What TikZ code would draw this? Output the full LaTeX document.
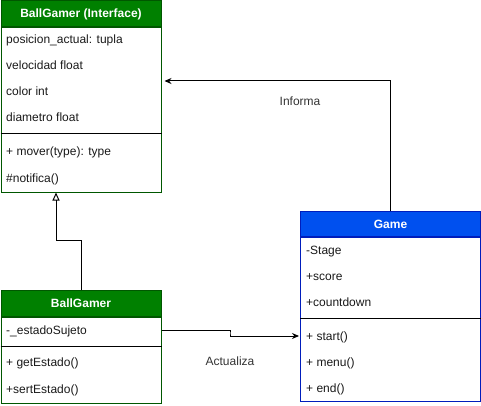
\documentclass[tikz,border=0pt]{standalone}
\usepackage{fontspec}
\setmainfont{Liberation Sans}
\usetikzlibrary{arrows.meta,positioning,calc}
\definecolor{gHead}{RGB}{0,128,0}
\definecolor{gLine}{RGB}{0,87,0}
\definecolor{bHead}{RGB}{0,80,239}
\definecolor{bLine}{RGB}{0,29,188}

\begin{document}
\begin{tikzpicture}[x=1pt,y=-1pt,
    font=\fontsize{12}{14}\selectfont,
    headbox/.style={draw=#1, line width=1pt, anchor=north west, minimum height=26pt,
      inner sep=0pt, text=white, font=\fontsize{12}{14}\selectfont\bfseries},
    bodybox/.style={draw=#1, line width=1pt, anchor=north west, inner sep=0pt},
    fieldtxt/.style={anchor=west, inner xsep=6pt, inner ysep=0pt,
      text height=10pt, text depth=2pt, text=black!90},
    sepline/.style={line width=1pt},
    conn/.style={line width=1pt},
    lbl/.style={text=black!80}]
  \useasboundingbox (0,0) rectangle (481,406);

  % Interface box
  \node[headbox=gLine, fill=gHead, minimum width=160pt] (ifHead) at (0.5,0.5) {BallGamer (Interface)};
  \node[bodybox=gLine, minimum width=160pt, minimum height=164pt] (ifBody) at (ifHead.south west) {};
  \foreach \txt [count=\i] in {posicion\_actual: tupla, velocidad float, color int, diametro float}
    \node[fieldtxt] (ifF\i) at (0,14+26*\i) {\txt};
  \draw[sepline] (ifBody.west |- 0,134) -- (ifBody.east |- 0,134);
  \foreach \txt [count=\i] in {+ mover(type): type, \#notifica()}
    \node[fieldtxt] (ifM\i) at (0,126+26*\i) {\txt};

  % BallGamer box
  \node[headbox=gLine, fill=gHead, minimum width=160pt] (bgHead) at (0.5,290) {BallGamer};
  \node[bodybox=gLine, minimum width=160pt, minimum height=86pt] (bgBody) at (bgHead.south west) {};
  \node[fieldtxt] (bgF1) at (0,330) {-\_estadoSujeto};
  \draw[sepline] (bgBody.west |- 0,346) -- (bgBody.east |- 0,346);
  \node[fieldtxt] (bgM1) at (0,362) {+ getEstado()};
  \node[fieldtxt] (bgM2) at (0,389) {+sertEstado()};

  % Game box
  \node[headbox=bLine, fill=bHead, minimum width=180pt, minimum height=25pt] (gmHead) at (300,211) {Game};
  \node[bodybox=bLine, minimum width=180pt, minimum height=164pt] (gmBody) at (gmHead.south west) {};
  \foreach \txt [count=\i] in {-Stage, +score, +countdown}
    \node[fieldtxt] (gmF\i) at (300,224+26*\i) {\txt};
  \draw[sepline] (gmBody.west |- 0,318) -- (gmBody.east |- 0,318);
  \foreach \txt [count=\i] in {+ start(), + menu(), + end()}
    \node[fieldtxt] (gmM\i) at (300,310+26*\i) {\txt};

  % Inheritance
  \coordinate (inhJog) at (56,240);
  \draw[conn, -{Triangle[open,width=7pt,length=8pt]}] (bgHead.north) |- (inhJog) -- (inhJog |- ifBody.south);

  % Informa
  \coordinate (infoEnd) at (ifBody.east |- 0,81);
  \draw[conn, -{Stealth[length=7pt,width=6pt]}, shorten >=3pt] (gmHead.north) |- (infoEnd);
  \node[lbl] (infoLbl) at (300,101) {Informa};

  % Actualiza
  \coordinate (actJog) at (230,333);
  \draw[conn, -{Stealth[length=7pt,width=6pt]}, shorten >=1pt] (bgBody.east |- bgF1) -| (actJog) |- (gmM1.west);
  \node[lbl] (actLbl) at (230,361) {Actualiza};
\end{tikzpicture}
\end{document}
